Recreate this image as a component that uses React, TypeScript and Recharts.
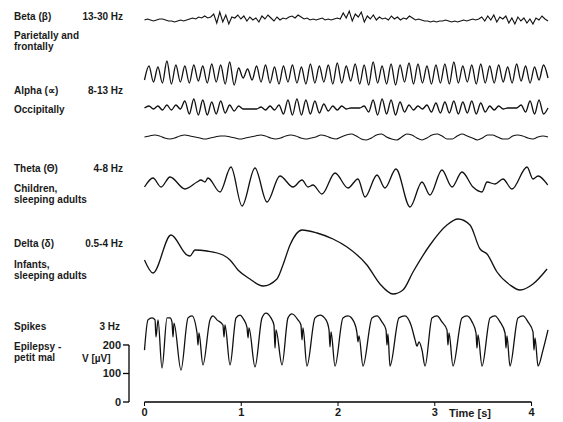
import React from 'react';
import { LineChart, Line, XAxis, YAxis, ReferenceLine } from 'recharts';

// ---------- data ----------
const TRACE_END = 4.17; // seconds, end of every trace

// Beta 13-30 Hz (amplitude units, up positive)
const BETA_V = [
  0, 1, 0, -1, 0, 1, 1, 0, -1, -1, -2, -1, 0, -1, 0, 1, 2, 1, 3, 2, 4, 2, 3,
  6, -3, 8, -2, 5, -4, 3,
  2, 5, 1, 4, -1, 3, 0, 2, -2, 4, 1, 5, 2, -1, 3, 0, 2, 1, 3, 4, 2, 5, 3, 1, 2, 0, 1, 0, 1, 2, 0, 1, 0, 1, 2, 1,
  7, 2, 9, -1, 6, 3, 8, -2,
  4, 1, 5, 0, 3, 1, 2, 0, 4, 1, 3, 0, 2, 1, 4, 2, 0, 1,
  0, -1, -1, -2, -1, -2, -1, -1, 0, -1, -2, -1, -2, -1, 0, -1, 0, 1, 0, 1,
  3, -1, 4, 0, 5, -2, 3, 1, 4, -3, 2, -4, 3, -1, 2, -3, 1, -4, 2, 0, 4, 1, -1,
];

// Alpha 8-13 Hz, first trace (alternating peaks / troughs)
const ALPHA1_V = [
  -6,
  8, -8, 7, -9, 13, -10, 9, -8, 8, -9, 9, -7, 8, -9, 10, -8, 9, -10, 12, -11,
  6, -4, 5, -6, 8, -8, 9, -9, 7, -10,
  8, -8, 9, -9, 7, -10, 10, -9, 8, -8, 9, -10, 11, -9, 8, -7, 10, -10, 9, -11,
  12, -9, 8, -10, 10, -11, 9, -8, 11, -10, 10, -9, 8, -10, 9, -9, 10, -10, 12, -9,
  8, -8, 9, -10, 10, -9, 8, -9, 9, -8, 7, -9, 10, -7, 8, -9, 7, -6, 9, -4,
];

// Alpha, second trace (bursts and flat stretches)
const ALPHA2_V = [
  0, 2, -1, 2, -2, 3, -2, 3, -1,
  7, -6, 9, -7, 8, -7, 6, -6, 7, -5,
  3, -3, 2,
  -1, -1, -1, -1,
  1, -2, 2, -2, 3,
  -6, 8, -7, 9, -7, 8, -6, 7, -5, 4,
  -3, 2, -2, 2, -1,
  0, 0, 0,
  2, -4, 8, -7, 9, -6, 8, -7, 6, -4,
  3, -2, 2, -1,
  3, -4, 5, -5, 6, -5, 7, -6, 6, -5, 7, -6, 5, -4,
  2, -2, 2, -1,
  0, 0, 0,
  3, -4, 7, -6, 8, -6,
  0,
];

// Alpha, third trace (nearly flat)
const ALPHA3_V = [
  0, 1, 2, 1, -1, -2, -1, 1, 2, 1, 0, -1, -2, -1, 0, 1, 1, 0, -1, -2,
  -1, 0, 1, 2, 1, -1, -2, -1, 1, 2, 1, -1, -2, -1, 0, 2, 1, -1, -2, 0,
  2, 3, 1, -2, -3, -1, 2, 3, 0, -2, -3, 0, 3, 2, -1, -3, -1, 2, 3, 1,
  -2, -2, 1, 3, 1, -1, -3, -1, 2, 2, 0, -2, -2, 1, 2, 1, -1, -2, 0, 1, 0,
];

// Theta 4-8 Hz
const THETA_T = [
  0, 0.088, 0.171, 0.264, 0.419, 0.543, 0.584, 0.625, 0.656, 0.78,
  0.894, 1.008, 1.142, 1.266, 1.4, 1.535, 1.628, 1.69, 1.741, 1.834,
  1.969, 2.103, 2.206, 2.279, 2.403, 2.485, 2.599, 2.744, 2.868, 2.95,
  3.074, 3.178, 3.281, 3.395, 3.488, 3.54, 3.622, 3.705, 3.798, 3.953,
  4.015, 4.067, 4.167,
];
const THETA_V = [
  -5, 4, -5, 5, -7, 0, 2, 0, 4, -10,
  15, -24, 14, -20, 6, -5, 2, -5, -3, -12,
  9, -6, 3, -15, 7, -6, 13, -25, 0, -13,
  12, -5, 10, -5, -10, 0, -2, 3, -7, 15,
  3, 6, -3,
];

// Delta 0.5-4 Hz
const DELTA_T = [
  0, 0.088, 0.274, 0.439, 0.47, 0.522, 0.646, 0.811, 0.884, 0.966,
  1.09, 1.225, 1.369, 1.431, 1.504, 1.628, 1.783, 1.948, 2.093, 2.299,
  2.434, 2.568, 2.671, 2.775, 2.95, 3.126, 3.24, 3.364, 3.468, 3.54,
  3.643, 3.778, 3.881, 4.015, 4.16,
];
const DELTA_V = [
  -3, -16, 22, 2, 1, 7, 6, 2, -3, -13,
  -22, -29, -22, -8, 12, 27, 24, 18, 10, -8,
  -27, -37, -33, -15, 12, 32, 38, 32, 8, 3,
  -15, -28, -33, -27, -12,
];

// Spikes 3 Hz (µV)
const SPIKE_T = [
  0, 0.036, 0.078, 0.109, 0.119, 0.14, 0.181,
  0.233, 0.264, 0.284, 0.295, 0.305, 0.377,
  0.45, 0.491, 0.543, 0.553, 0.563, 0.604,
  0.677, 0.708, 0.749, 0.811, 0.822, 0.832, 0.884,
  0.946, 0.987, 1.028, 1.059, 1.07, 1.08, 1.142,
  1.214, 1.256, 1.307, 1.338, 1.349, 1.359, 1.421,
  1.483, 1.524, 1.586, 1.617, 1.628, 1.638, 1.679,
  1.762, 1.814, 1.876, 1.907, 1.917, 1.928, 1.969,
  2.051, 2.103, 2.165, 2.196, 2.206, 2.217, 2.258,
  2.351, 2.403, 2.454, 2.496, 2.506, 2.516, 2.537,
  2.63, 2.692, 2.754, 2.796, 2.816, 2.837, 2.868, 2.899,
  2.971, 3.023, 3.074, 3.126, 3.136, 3.147, 3.188,
  3.281, 3.333, 3.385, 3.426, 3.436, 3.447, 3.488,
  3.571, 3.622, 3.674, 3.726, 3.736, 3.746, 3.777,
  3.86, 3.912, 3.963, 4.015, 4.025, 4.036, 4.067,
  4.118, 4.17,
];
const SPIKE_V = [
  182, 288, 295, 288, 228, 288, 119,
  295, 295, 281, 228, 277, 112,
  295, 302, 242, 200, 242, 130,
  288, 302, 288, 270, 228, 270, 130,
  295, 305, 288, 263, 225, 260, 123,
  295, 312, 295, 270, 189, 253, 130,
  295, 309, 288, 270, 218, 260, 126,
  295, 305, 288, 253, 193, 246, 126,
  295, 302, 281, 242, 211, 232, 126,
  295, 302, 281, 253, 200, 239, 126,
  295, 302, 270, 218, 196, 211, 182, 126,
  295, 302, 281, 253, 200, 242, 126,
  295, 302, 281, 242, 189, 235, 126,
  295, 302, 281, 242, 189, 232, 126,
  295, 302, 281, 246, 182, 225, 126,
  182, 253,
];

const TIME_TICKS = [0, 1, 2, 3, 4];
const VOLT_TICKS = [0, 100, 200];

// ---------- layout ----------
const W = 563;
const H = 422;
const X_AXIS_H = 20;
const PLOT_LEFT = 129;
const PLOT_BOTTOM = H - X_AXIS_H; // 402
const X_DOMAIN: [number, number] = [-0.16, 4.17];
const PX_PER_S = (W - 15 - PLOT_LEFT) / (X_DOMAIN[1] - X_DOMAIN[0]);
const TICK_LEN_S = 6 / PX_PER_S;
const SPIKE_DOMAIN: [number, number] = [0, 1410];
const CENTER = { beta: 20, alpha1: 74, alpha2: 108, alpha3: 137, theta: 182, delta: 257 };
const band = (c: number): [number, number] => [c - PLOT_BOTTOM, c];
const voltToPx = (v: number) => PLOT_BOTTOM - (v / SPIKE_DOMAIN[1]) * PLOT_BOTTOM;

const even = (vals: number[]) => vals.map((v, i) => ({ t: (i * TRACE_END) / (vals.length - 1), v }));
const paired = (ts: number[], vals: number[]) => ts.map((t, i) => ({ t, v: vals[i] }));

const betaData = even(BETA_V);
const alpha1Data = even(ALPHA1_V);
const alpha2Data = even(ALPHA2_V);
const alpha3Data = even(ALPHA3_V);
const thetaData = paired(THETA_T, THETA_V);
const deltaData = paired(DELTA_T, DELTA_V);
const spikeData = paired(SPIKE_T, SPIKE_V);

const INK = '#111';
const FONT = 'Arial, "Liberation Sans", Helvetica, sans-serif';

const Txt = ({ x, y, right, size, children }: { x?: number; y: number; right?: number; size?: number; children: React.ReactNode }) => (
  <div
    style={{
      position: 'absolute',
      top: y - 6,
      left: x,
      right: right !== undefined ? W - right : undefined,
      fontSize: size ?? 10,
      fontWeight: 'bold',
      lineHeight: '12px',
      whiteSpace: 'nowrap',
      color: '#1a1a1a',
      fontFamily: FONT,
    }}
  >
    {children}
  </div>
);

export default function App() {
  const lineProps = {
    dataKey: 'v',
    dot: false,
    stroke: INK,
    strokeWidth: 1.3,
    isAnimationActive: false,
  } as const;
  return (
    <div style={{ position: 'absolute', left: 0, top: 0, width: W, height: H, background: '#fff', fontFamily: FONT }}>
      <LineChart width={W} height={H} margin={{ top: 0, right: 15, bottom: 0, left: PLOT_LEFT }}>
        <XAxis
          dataKey="t"
          type="number"
          domain={X_DOMAIN}
          ticks={TIME_TICKS}
          axisLine={false}
          tickSize={4}
          tickLine={{ stroke: '#000' }}
          tick={{ fontSize: 11, fill: '#1a1a1a', fontFamily: FONT, fontWeight: 'bold' }}
          height={X_AXIS_H}
        />
        <YAxis yAxisId="spk" type="number" hide domain={SPIKE_DOMAIN} />
        <YAxis yAxisId="beta" type="number" hide domain={band(CENTER.beta)} />
        <YAxis yAxisId="alpha1" type="number" hide domain={band(CENTER.alpha1)} />
        <YAxis yAxisId="alpha2" type="number" hide domain={band(CENTER.alpha2)} />
        <YAxis yAxisId="alpha3" type="number" hide domain={band(CENTER.alpha3)} />
        <YAxis yAxisId="theta" type="number" hide domain={band(CENTER.theta)} />
        <YAxis yAxisId="delta" type="number" hide domain={band(CENTER.delta)} />

        <ReferenceLine yAxisId="spk" segment={[{ x: 0, y: 0 }, { x: 4, y: 0 }]} stroke="#000" strokeWidth={1.3} ifOverflow="visible" />
        <ReferenceLine
          yAxisId="spk"
          segment={[{ x: X_DOMAIN[0], y: 0 }, { x: X_DOMAIN[0], y: 200 }]}
          stroke="#000"
          strokeWidth={1.3}
          ifOverflow="visible"
        />
        {VOLT_TICKS.map((v) => (
          <ReferenceLine
            key={v}
            yAxisId="spk"
            segment={[{ x: X_DOMAIN[0] - TICK_LEN_S, y: v }, { x: X_DOMAIN[0], y: v }]}
            stroke="#000"
            strokeWidth={1.3}
            ifOverflow="visible"
          />
        ))}

        <Line yAxisId="beta" data={betaData} type="linear" {...lineProps} strokeWidth={1.1} />
        <Line yAxisId="alpha1" data={alpha1Data} type="monotone" {...lineProps} />
        <Line yAxisId="alpha2" data={alpha2Data} type="monotone" {...lineProps} />
        <Line yAxisId="alpha3" data={alpha3Data} type="monotone" {...lineProps} strokeWidth={1.1} />
        <Line yAxisId="theta" data={thetaData} type="monotone" {...lineProps} />
        <Line yAxisId="delta" data={deltaData} type="monotone" {...lineProps} />
        <Line yAxisId="spk" data={spikeData} type="monotone" {...lineProps} />
      </LineChart>

      <Txt x={14} y={17}>Beta (β)</Txt>
      <Txt right={123} y={17}>13-30 Hz</Txt>
      <Txt x={14} y={36}>Parietally and</Txt>
      <Txt x={14} y={47}>frontally</Txt>

      <Txt x={14} y={91}>Alpha (∝)</Txt>
      <Txt right={123} y={91}>8-13 Hz</Txt>
      <Txt x={14} y={110}>Occipitally</Txt>

      <Txt x={14} y={169}>Theta (Θ)</Txt>
      <Txt right={123} y={169}>4-8 Hz</Txt>
      <Txt x={14} y={189}>Children,</Txt>
      <Txt x={14} y={200}>sleeping adults</Txt>

      <Txt x={14} y={244}>Delta (δ)</Txt>
      <Txt right={123} y={244}>0.5-4 Hz</Txt>
      <Txt x={14} y={265}>Infants,</Txt>
      <Txt x={14} y={276}>sleeping adults</Txt>

      <Txt x={14} y={327}>Spikes</Txt>
      <Txt right={120} y={327}>3 Hz</Txt>
      <Txt x={14} y={347}>Epilepsy -</Txt>
      <Txt x={14} y={358}>petit mal</Txt>
      <Txt x={82} y={359}>V [µV]</Txt>
      {VOLT_TICKS.map((v) => (
        <Txt key={v} right={121} y={voltToPx(v)} size={11}>
          {v}
        </Txt>
      ))}

      <Txt x={449} y={413} size={11}>Time [s]</Txt>
    </div>
  );
}
